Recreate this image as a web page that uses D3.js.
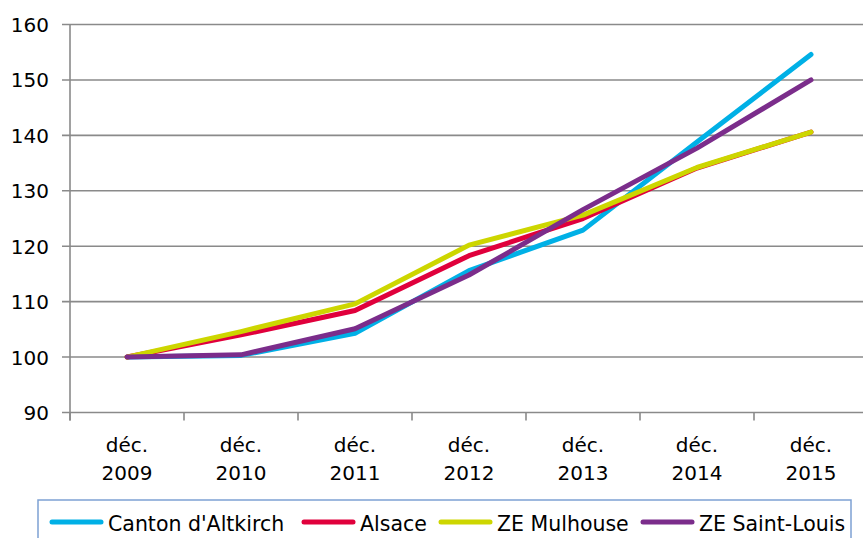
<!DOCTYPE html>
<html>
<head>
<meta charset="utf-8">
<script src="https://cdn.jsdelivr.net/npm/d3@7"></script>
<style>
  body { margin: 0; background: #fff; }
  svg { display: block; font-family: "DejaVu Sans", Verdana, sans-serif; }
  .grid { stroke: #8a8a8a; stroke-width: 1.6; }
  .series { fill: none; stroke-width: 5; stroke-linejoin: round; stroke-linecap: round; }
</style>
</head>
<body>
<svg id="chart"></svg>
<script>
// chart data
const categories = ['déc. 2009', 'déc. 2010', 'déc. 2011', 'déc. 2012', 'déc. 2013', 'déc. 2014', 'déc. 2015']
const yTicks = [90, 100, 110, 120, 130, 140, 150, 160]

const seriesNames = ["Canton d'Altkirch", 'Alsace', 'ZE Mulhouse', 'ZE Saint-Louis']
const seriesColors = ['#00b0e6', '#e0003c', '#cdd600', '#7b2d8b']

const altkirch = [100, 100.3, 104.3, 115.6, 122.9, 138.8, 154.6]
const alsace = [100, 104.0, 108.4, 118.3, 125.0, 134.1, 140.6]
const mulhouse = [100, 104.6, 109.6, 120.2, 125.6, 134.2, 140.6]
const saintLouis = [100, 100.4, 105.1, 114.8, 126.6, 137.7, 150.0]
const seriesValues = [altkirch, alsace, mulhouse, saintLouis]

const width = 863
const height = 538
const plot = { left: 70, right: 868, top: 24.5, bottom: 412.5 }
// left edge of each legend entry
const legendX = [50, 302, 439, 641]

const chart = d3.select('#chart')
    .attr('width', width)
    .attr('height', height)

const xScale = d3.scaleBand().domain(categories).range([plot.left, plot.right])
const yScale = d3.scaleLinear().domain([90, 160]).range([plot.bottom, plot.top])
const xMid = c => xScale(c) + xScale.bandwidth() / 2

// horizontal grid lines and left ticks
chart.append('g')
    .selectAll('line')
    .data(yTicks)
    .join('line')
    .attr('class', 'grid')
    .attr('x1', plot.left - 8)
    .attr('x2', plot.right)
    .attr('y1', d => yScale(d))
    .attr('y2', d => yScale(d))

// y axis line
chart.append('line')
    .attr('class', 'grid')
    .attr('x1', plot.left).attr('x2', plot.left)
    .attr('y1', plot.top).attr('y2', plot.bottom + 8)

// y labels
chart.append('g')
    .selectAll('text')
    .data(yTicks)
    .join('text')
    .attr('x', 49)
    .attr('y', d => yScale(d) + 7.5)
    .attr('text-anchor', 'end')
    .attr('font-size', 20)
    .attr('fill', '#000')
    .text(d => d)

// x ticks between categories
const xEdges = categories.map(c => xScale(c)).concat([plot.right])
chart.append('g')
    .selectAll('line')
    .data(xEdges)
    .join('line')
    .attr('class', 'grid')
    .attr('x1', d => d).attr('x2', d => d)
    .attr('y1', plot.bottom).attr('y2', plot.bottom + 8)

// x labels on two lines
const xLabels = chart.append('g')
    .selectAll('text')
    .data(categories)
    .join('text')
    .attr('text-anchor', 'middle')
    .attr('font-size', 20)
    .attr('fill', '#000')
xLabels.selectAll('tspan')
    .data(d => d.split(' ').map(part => ({ c: d, part })))
    .join('tspan')
    .attr('x', d => xMid(d.c))
    .attr('y', (d, i) => 452 + i * 28)
    .text(d => d.part)

// series lines
const line = d3.line()
    .x((d, i) => xMid(categories[i]))
    .y(d => yScale(d))

chart.append('g')
    .selectAll('path')
    .data(seriesValues)
    .join('path')
    .attr('class', 'series')
    .attr('stroke', (d, i) => seriesColors[i])
    .attr('d', line)

// legend
chart.append('rect')
    .attr('x', 38).attr('y', 500)
    .attr('width', 813).attr('height', 80)
    .attr('fill', 'none')
    .attr('stroke', '#7ea1d3')
    .attr('stroke-width', 1.5)

const legend = chart.append('g')
    .selectAll('g')
    .data(seriesNames)
    .join('g')
    .attr('transform', (d, i) => `translate(${legendX[i]}, 0)`)

legend.append('line')
    .attr('x1', 2).attr('x2', 51)
    .attr('y1', 522).attr('y2', 522)
    .attr('stroke', (d, i) => seriesColors[i])
    .attr('stroke-width', 5)
    .attr('stroke-linecap', 'round')

legend.append('text')
    .attr('x', 58)
    .attr('y', 531)
    .attr('font-size', 20.5)
    .attr('fill', '#000')
    .text(d => d)
</script>
</body>
</html>
